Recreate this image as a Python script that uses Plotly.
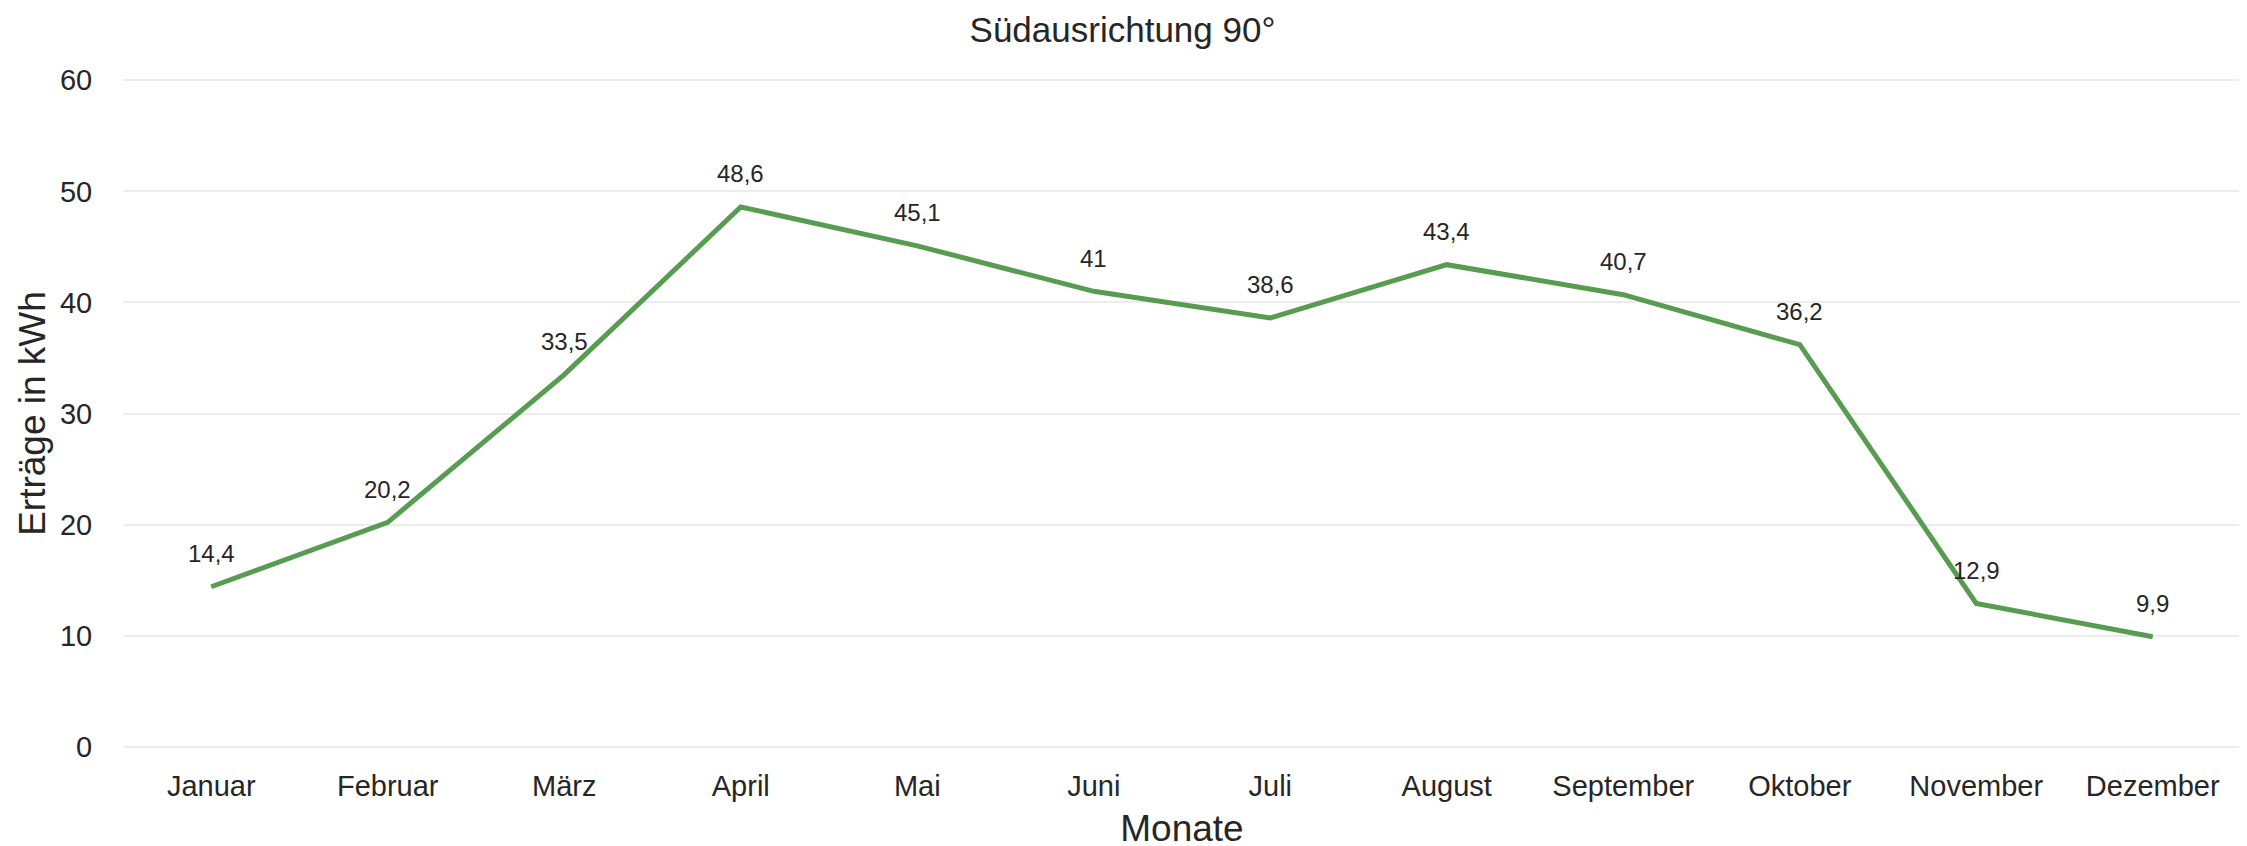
import plotly.graph_objects as go

months = ["Januar", "Februar", "März", "April", "Mai", "Juni", "Juli",
          "August", "September", "Oktober", "November", "Dezember"]
ertraege = [14.4, 20.2, 33.5, 48.6, 45.1, 41.0, 38.6, 43.4, 40.7, 36.2, 12.9, 9.9]
y_ticks = [0, 10, 20, 30, 40, 50, 60]

title_text = "Südausrichtung 90°"
x_title = "Monate"
y_title = "Erträge in kWh"

FONT = "Liberation Sans, Arial, sans-serif"
TXT = "#262626"
GREEN = "#579c50"


def fmt(v):
    s = ("%.1f" % v).rstrip("0").rstrip(".")
    return s.replace(".", ",")


fig = go.Figure()
fig.add_trace(go.Scatter(
    x=months, y=ertraege, mode="lines",
    line=dict(color=GREEN, width=5),
    hoverinfo="skip", showlegend=False,
))

for m, v in zip(months, ertraege):
    fig.add_annotation(x=m, y=v, text=fmt(v), showarrow=False,
                       yshift=33, font=dict(family=FONT, size=24, color=TXT))

fig.update_layout(
    width=2247, height=846,
    margin=dict(l=115, r=14, t=69, b=104, autoexpand=False),
    paper_bgcolor="white", plot_bgcolor="white",
    font=dict(family=FONT, color=TXT),
    title=dict(text=title_text, x=0.496, xanchor="center", y=0.974, yanchor="middle",
               font=dict(family=FONT, size=35, color=TXT)),
    xaxis=dict(
        type="category", range=[-0.5, 11.5],
        showgrid=False, zeroline=False, showline=False,
        tickfont=dict(family=FONT, size=29, color=TXT),
        ticks="outside", ticklen=10, tickcolor="rgba(0,0,0,0)",
        title=dict(text=x_title, font=dict(family=FONT, size=37, color=TXT), standoff=14),
    ),
    yaxis=dict(
        range=[-0.3, 60.3], tickvals=y_ticks, ticktext=[str(t) for t in y_ticks],
        showgrid=True, gridcolor="#ececec", gridwidth=2,
        zeroline=False, showline=False,
        tickfont=dict(family=FONT, size=29, color=TXT),
        ticks="outside", ticklen=24, tickcolor="rgba(0,0,0,0)",
        title=dict(text=y_title, font=dict(family=FONT, size=37, color=TXT), standoff=2),
    ),
)

fig.write_html("out.html")
